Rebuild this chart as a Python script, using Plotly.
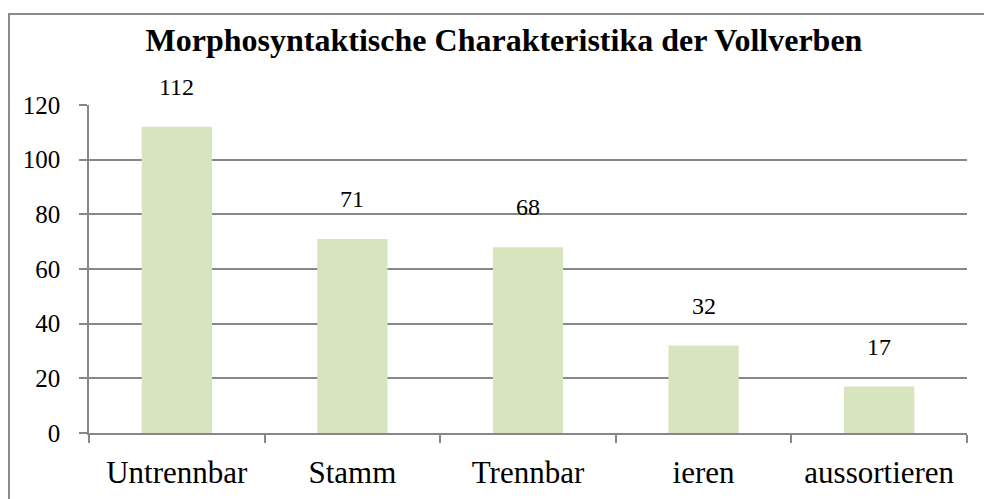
import plotly.graph_objects as go

categories = ["Untrennbar", "Stamm", "Trennbar", "ieren", "aussortieren"]
values = [112, 71, 68, 32, 17]
y_ticks = [0, 20, 40, 60, 80, 100, 120]
title_text = "Morphosyntaktische Charakteristika der Vollverben"

FONT = "Liberation Serif"
GRID = "#878787"

fig = go.Figure()
fig.add_trace(go.Bar(
    x=categories, y=values,
    marker=dict(color="#D7E4BD", line=dict(width=0)),
    hoverinfo="x+y",
))

for c, v in zip(categories, values):
    fig.add_annotation(x=c, y=v, text=str(v), showarrow=False,
                       yanchor="middle", yshift=40,
                       font=dict(family=FONT, size=24, color="black"))

# chart-area border (Excel style frame)
L, R, T, B = 89, 967, 105, 433
W, H = R - L, B - T
def px(x): return (x - L) / W
def py(y): return (B - y) / H
fig.add_shape(type="rect", xref="paper", yref="paper",
              x0=px(9), x1=px(1000), y0=py(14), y1=py(520),
              line=dict(color="#8C8C8C", width=2), layer="below")

fig.update_layout(
    width=984, height=499,
    margin=dict(l=L, r=984 - R, t=T, b=499 - B),
    paper_bgcolor="white", plot_bgcolor="white",
    bargap=0.6,
    showlegend=False,
    title=dict(text="<b>" + title_text + "</b>", x=504 / 984, xanchor="center",
               xref="container", yref="container", y=1 - 40 / 499, yanchor="middle",
               font=dict(family=FONT, size=32, color="black")),
    font=dict(family=FONT, color="black"),
)
fig.update_xaxes(
    showline=True, linecolor=GRID, linewidth=1.5,
    ticks="outside", tickson="boundaries", ticklen=8, tickcolor=GRID, tickwidth=1.5,
    tickfont=dict(family=FONT, size=31, color="black"),
    showgrid=False, fixedrange=True, ticklabelstandoff=11, automargin=False,
)
fig.update_yaxes(
    range=[0, 120], tickvals=y_ticks,
    showline=True, linecolor=GRID, linewidth=1.5,
    ticks="outside", ticklen=8, tickcolor=GRID, tickwidth=1.5,
    showgrid=True, gridcolor=GRID, gridwidth=1.5,
    tickfont=dict(family=FONT, size=25, color="black"),
    zeroline=False, fixedrange=True, ticklabelstandoff=14, automargin=False,
)

fig.write_html("out.html", config={"displayModeBar": False},
               post_script="document.body.style.margin='0';")
